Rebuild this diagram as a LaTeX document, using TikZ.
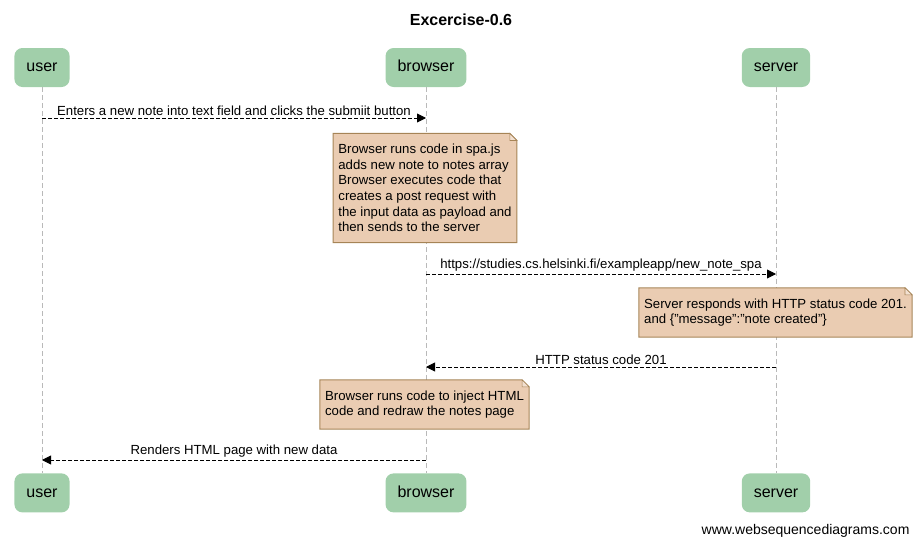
\documentclass[tikz,border=0pt]{standalone}
\usepackage{fontspec}
\setmainfont{Liberation Sans}
\usetikzlibrary{arrows.meta,positioning}
\definecolor{actorgreen}{RGB}{161,207,170}
\definecolor{notefill}{RGB}{234,204,178}
\definecolor{notedraw}{RGB}{166,132,86}
\newcommand{\dogear}[1]{%
  \fill[white] (#1.north east) -- ([xshift=-7pt]#1.north east) -- ([yshift=-7pt]#1.north east) -- cycle;
  \draw[notedraw,line width=1pt] (#1.south west) -- (#1.north west) -- ([xshift=-7pt]#1.north east)
    -- ([yshift=-7pt]#1.north east) -- (#1.south east) -- cycle;
  \draw[notedraw,fill=notefill!60,line width=0.6pt] ([xshift=-7pt]#1.north east) |- ([yshift=-7pt]#1.north east) -- cycle;
}

\begin{document}
\begin{tikzpicture}[x=1pt,y=-1pt,>={Triangle[length=9pt,width=9pt]},
                    font=\fontsize{13.2}{15}\selectfont]
\tikzstyle{actor}=[fill=actorgreen,rounded corners=8pt,minimum height=39pt,
                   inner xsep=12pt,text height=12pt,text depth=3.5pt,
                   font=\fontsize{16}{18}\selectfont]
\tikzstyle{note}=[fill=notefill,align=left,inner xsep=5pt,inner ysep=10.5pt,
                  font=\fontsize{13.2}{15.6}\selectfont]
\tikzstyle{lifeline}=[draw=gray!55,dash pattern=on 5pt off 3pt]
\tikzstyle{msg}=[->,dash pattern=on 4pt off 2pt,line width=0.9pt]
\tikzstyle{msglabel}=[above,inner sep=2pt]
\useasboundingbox (0,0) rectangle (922,546);

\node[font=\bfseries\fontsize{16}{18}\selectfont] (title) at (461,20) {Excercise-0.6};

% actors
\node[actor] (user) at (42,67.5) {user};
\node[actor] (browser) at (426,67.5) {browser};
\node[actor] (server) at (776,67.5) {server};
\node[actor] (user2) [below=386pt of user] {user};
\node[actor] (browser2) [below=386pt of browser] {browser};
\node[actor] (server2) [below=386pt of server] {server};

\draw[lifeline] (user) -- (user2);
\draw[lifeline] (browser) -- (browser2);
\draw[lifeline] (server) -- (server2);

% message points on the lifelines
\coordinate (u1) at (user |- 0,118);
\coordinate (b1) at (browser |- 0,118);
\coordinate (b2) at (browser |- 0,274);
\coordinate (s2) at (server |- 0,274);
\coordinate (s3) at (server |- 0,367);
\coordinate (b3) at (browser |- 0,367);
\coordinate (b4) at (browser |- 0,460);
\coordinate (u4) at (user |- 0,460);

\draw[msg] (u1) -- node[msglabel] {Enters a new note into text field and clicks the submiit button} (b1);

\node[note] (n1) at (425,188) {Browser runs code in spa.js\\adds new note to notes array\\Browser executes code that\\creates a post request with\\the input data as payload and\\then sends to the server};
\dogear{n1}

\draw[msg] (b2) -- node[msglabel] {https://studies.cs.helsinki.fi/exampleapp/new\_note\_spa} (s2);

\node[note] (n2) at (775.5,312.5) {Server responds with HTTP status code 201.\\and \{"message":"note created"\}};
\dogear{n2}

\draw[msg] (s3) -- node[msglabel] {HTTP status code 201} (b3);

\node[note] (n3) at (424.5,404.5) {Browser runs code to inject HTML\\code and redraw the notes page};
\dogear{n3}

\draw[msg] (b4) -- node[msglabel] {Renders HTML page with new data} (u4);

\node[anchor=east,font=\fontsize{14}{16}\selectfont] (footer) at (913,531) {www.websequencediagrams.com};
\end{tikzpicture}
\end{document}
